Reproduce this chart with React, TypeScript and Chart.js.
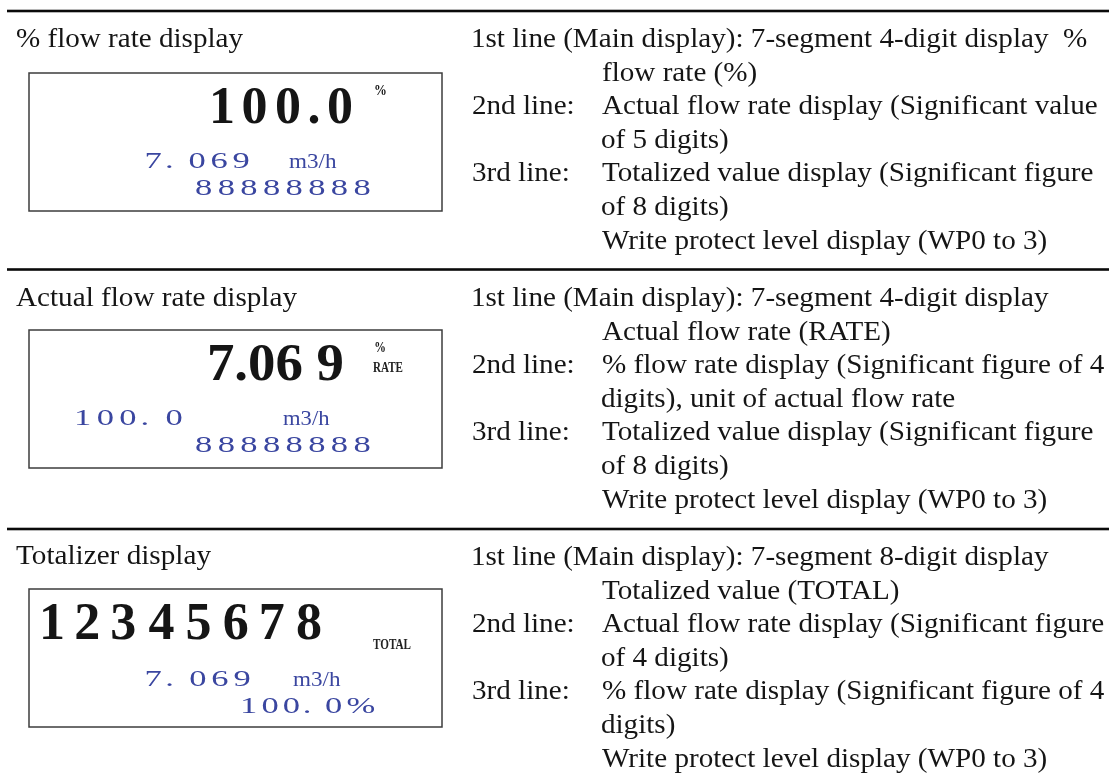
import React, { useEffect, useRef } from "react";
import { Chart, registerables } from "chart.js";

Chart.register(...registerables);

// ---------- data ----------
const rowTitles = ["% flow rate display", "Actual flow rate display", "Totalizer display"];
const mainReadings = ["100.0", "7.06 9", "12345678"];
const mainUnitsUpper = ["%", "%", ""];
const mainUnitsLower = ["", "RATE", "TOTAL"];
const secondReadings = ["7. 069", "100. 0", "7. 069"];
const secondUnits = ["m3/h", "m3/h", "m3/h"];
const thirdReadings = ["88888888", "88888888", "100. 0%"];

const lineTags = ["", "", "2nd line:", "", "3rd line:", "", ""];
const pctDescription = [
  "1st line (Main display): 7-segment 4-digit display  %",
  "flow rate (%)",
  "Actual flow rate display (Significant value",
  "of 5 digits)",
  "Totalized value display (Significant figure",
  "of 8 digits)",
  "Write protect level display (WP0 to 3)",
];
const rateDescription = [
  "1st line (Main display): 7-segment 4-digit display",
  "Actual flow rate (RATE)",
  "% flow rate display (Significant figure of 4",
  "digits), unit of actual flow rate",
  "Totalized value display (Significant figure",
  "of 8 digits)",
  "Write protect level display (WP0 to 3)",
];
const totalDescription = [
  "1st line (Main display): 7-segment 8-digit display",
  "Totalized value (TOTAL)",
  "Actual flow rate display (Significant figure",
  "of 4 digits)",
  "% flow rate display (Significant figure of 4",
  "digits)",
  "Write protect level display (WP0 to 3)",
];
const descriptions = [pctDescription, rateDescription, totalDescription];

// ---------- layout (page px, mapped through the chart scales) ----------
const W = 1109;
const H = 780;
const SERIF = '"Liberation Serif", "Times New Roman", serif';
const RULES = [11, 269.5, 529];
const RULE_X0 = 7;
const TITLE_X0 = 16;
const TITLE_X1 = [243, 297, 211];
const TITLE_BASE = [47, 306, 564];
const BOX_X0 = 29;
const BOX_X1 = 442;
const BOX_TOP = [73, 330, 589];
const BOX_H = 138;
const TAG_X = 473;
const TEXT_X = 602;
const FIRST_LINE_END = 1087;
const DESC_BASE = [47, 306, 565];
const DESC_PITCH = 33.6;

const MAIN_POS = [
  { x0: 213, x1: 352, base: 123, mode: "cells" },
  { x0: 209, x1: 343, base: 380, mode: "stretch" },
  { x0: 43, x1: 321, base: 639, mode: "cells" },
];
const UPPER_POS = [
  { x0: 375, x1: 386, base: 95 },
  { x0: 375, x1: 385, base: 352 },
  null,
];
const LOWER_POS = [null, { x0: 373, x1: 403, base: 372 }, { x0: 373, x1: 411, base: 649 }];
const SECOND_POS = [
  { x0: 146, x1: 249, base: 168 },
  { x0: 77, x1: 182, base: 425 },
  { x0: 146, x1: 250, base: 686 },
];
const SECOND_UNIT_POS = [
  { x0: 289, x1: 337, base: 168 },
  { x0: 283, x1: 330, base: 425 },
  { x0: 293, x1: 341, base: 686 },
];
const THIRD_POS = [
  { x0: 195, x1: 370, base: 195 },
  { x0: 195, x1: 370, base: 452 },
  { x0: 243, x1: 375, base: 713 },
];

const INK = "#151515";
const BLUE = "#3a46a0";

function inkBox(ctx: CanvasRenderingContext2D, t: string) {
  const m = ctx.measureText(t);
  return { l: m.actualBoundingBoxLeft, r: m.actualBoundingBoxRight, adv: m.width };
}

function stretchText(ctx: CanvasRenderingContext2D, t: string, x0: number, x1: number, base: number, font: string, color: string) {
  ctx.font = font;
  const b = inkBox(ctx, t);
  const sx = (x1 - x0) / (b.l + b.r);
  ctx.save();
  ctx.translate(x0 + b.l * sx, base);
  ctx.scale(sx, 1);
  ctx.fillStyle = color;
  ctx.fillText(t, 0, 0);
  ctx.restore();
}

function cellText(ctx: CanvasRenderingContext2D, t: string, x0: number, x1: number, base: number, font: string, color: string, gs: number) {
  ctx.font = font;
  const chars = Array.from(t);
  const boxes = chars.map((c) => {
    const b = inkBox(ctx, c);
    if (c === " ") return { l: 0, w: b.adv * gs * 0.6, space: true };
    return { l: b.l * gs, w: (b.l + b.r) * gs, space: false };
  });
  const total = boxes.reduce((s, b) => s + b.w, 0);
  const gap = chars.length > 1 ? (x1 - x0 - total) / (chars.length - 1) : 0;
  let x = x0;
  ctx.fillStyle = color;
  chars.forEach((c, i) => {
    const b = boxes[i];
    if (!b.space) {
      ctx.save();
      ctx.translate(x + b.l, base);
      ctx.scale(gs, 1);
      ctx.fillText(c, 0, 0);
      ctx.restore();
    }
    x += b.w + gap;
  });
}

const tablePlugin = {
  id: "lcdTable",
  afterDraw(chart: any) {
    const ctx: CanvasRenderingContext2D = chart.ctx;
    const xs = chart.scales.x;
    const ys = chart.scales.y;
    const X = (v: number) => xs.getPixelForValue(v);
    const Y = (v: number) => ys.getPixelForValue(v);
    ctx.save();
    ctx.textBaseline = "alphabetic";
    ctx.textAlign = "left";

    // horizontal rules
    ctx.fillStyle = "#0a0a0a";
    RULES.forEach((r) => {
      ctx.fillRect(X(RULE_X0), Y(r) - 1.3, X(W) - X(RULE_X0), 2.6);
    });

    // right column: common horizontal scale from the longest first line
    const descFont = `28px ${SERIF}`;
    ctx.font = descFont;
    const ref = inkBox(ctx, pctDescription[0]);
    const dsx = (X(FIRST_LINE_END) - X(TAG_X)) / (ref.l + ref.r);
    const drawDesc = (t: string, x: number, base: number) => {
      if (!t) return;
      ctx.font = descFont;
      const b = inkBox(ctx, t);
      ctx.save();
      ctx.translate(X(x) + b.l * dsx, Y(base));
      ctx.scale(dsx, 1);
      ctx.fillStyle = INK;
      ctx.fillText(t, 0, 0);
      ctx.restore();
    };

    for (let i = 0; i < 3; i++) {
      // title
      stretchText(ctx, rowTitles[i], X(TITLE_X0), X(TITLE_X1[i]), Y(TITLE_BASE[i]), `28px ${SERIF}`, INK);

      // LCD box
      ctx.strokeStyle = "#3c3c3c";
      ctx.lineWidth = 1.5;
      ctx.strokeRect(X(BOX_X0), Y(BOX_TOP[i]), X(BOX_X1) - X(BOX_X0), Y(BOX_TOP[i] + BOX_H) - Y(BOX_TOP[i]));

      // main reading
      const mp = MAIN_POS[i];
      const bigFont = `bold 52px ${SERIF}`;
      if (mp.mode === "stretch") stretchText(ctx, mainReadings[i], X(mp.x0), X(mp.x1), Y(mp.base), bigFont, INK);
      else cellText(ctx, mainReadings[i], X(mp.x0), X(mp.x1), Y(mp.base), bigFont, INK, 1.0);

      const up = UPPER_POS[i];
      if (up && mainUnitsUpper[i]) stretchText(ctx, mainUnitsUpper[i], X(up.x0), X(up.x1), Y(up.base), `bold 14px ${SERIF}`, INK);
      const lp = LOWER_POS[i];
      if (lp && mainUnitsLower[i]) stretchText(ctx, mainUnitsLower[i], X(lp.x0), X(lp.x1), Y(lp.base), `bold 15px ${SERIF}`, "#222");

      // second line
      const sp = SECOND_POS[i];
      cellText(ctx, secondReadings[i], X(sp.x0), X(sp.x1), Y(sp.base), `23px ${SERIF}`, BLUE, 1.5);
      const su = SECOND_UNIT_POS[i];
      stretchText(ctx, secondUnits[i], X(su.x0), X(su.x1), Y(su.base), `21px ${SERIF}`, BLUE);

      // third line
      const tp = THIRD_POS[i];
      cellText(ctx, thirdReadings[i], X(tp.x0), X(tp.x1), Y(tp.base), `23px ${SERIF}`, BLUE, 1.5);

      // description lines
      const lines = descriptions[i];
      lines.forEach((t, k) => {
        const base = DESC_BASE[i] + k * DESC_PITCH;
        if (k === 0) {
          drawDesc(t, TAG_X, base);
        } else {
          drawDesc(lineTags[k], TAG_X, base);
          drawDesc(t, TEXT_X, base);
        }
      });
    }
    ctx.restore();
  },
};

export default function App() {
  const ref = useRef<HTMLCanvasElement | null>(null);
  useEffect(() => {
    if (!ref.current) return;
    const chart = new Chart(ref.current, {
      type: "scatter",
      data: { datasets: [] },
      options: {
        animation: false,
        responsive: false,
        events: [],
        layout: { padding: 0 },
        plugins: { legend: { display: false }, tooltip: { enabled: false } },
        scales: {
          x: { type: "linear", min: 0, max: W, display: false },
          y: { type: "linear", min: 0, max: H, reverse: true, display: false },
        },
      },
      plugins: [tablePlugin],
    } as any);
    return () => chart.destroy();
  }, []);
  return (
    <div style={{ position: "fixed", left: 0, top: 0, width: W, height: H, background: "#fff" }}>
      <canvas ref={ref} width={W} height={H} style={{ display: "block", width: W, height: H }} />
    </div>
  );
}
